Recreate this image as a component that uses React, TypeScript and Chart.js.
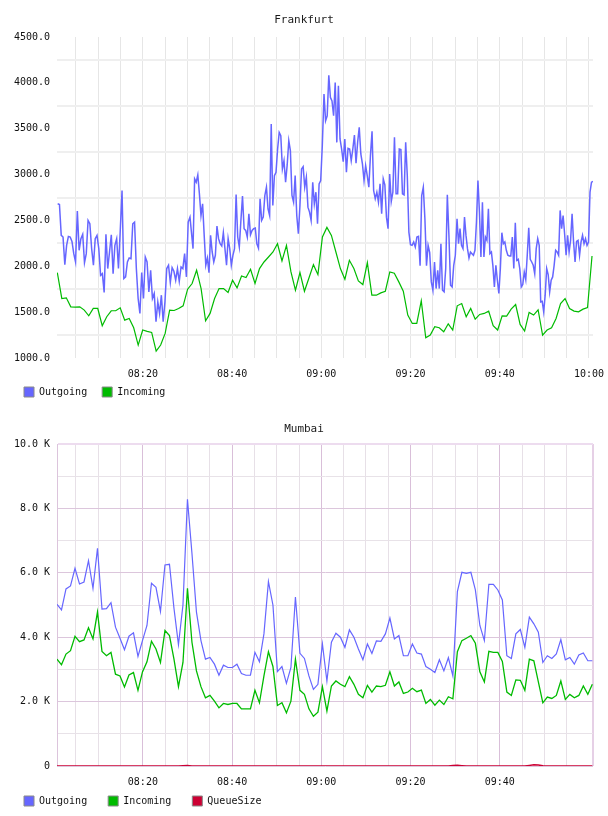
import React, { useEffect, useRef } from "react";
import { Chart, registerables } from "chart.js";

Chart.register(...registerables);

// ---- Frankfurt: outgoing traffic, four half-hour blocks of samples ----
const frankfurtOutgoing0800 = [
  2681, 2674, 2337, 2319, 2018, 2228, 2326, 2319, 2272, 2138,
  2047, 2602, 2174, 2301, 2348, 2040, 2138, 2500, 2464, 2192,
  2011, 2301, 2337, 2192, 1902, 1920, 1714, 2348, 1975, 2156,
  2344, 1920, 2228, 2301, 1975, 2391, 2826, 1866, 1884, 2047,
  2090, 2083, 2464, 2482, 1975, 1649, 1486, 1931, 1649, 2101,
  2047, 1721, 1957, 1649, 1703, 1395, 1612, 1486, 1685, 1395,
  1612, 1975, 2011, 1823, 1986, 1946, 1848, 1975, 1837, 1993,
  1975, 2138, 1884, 2482, 2536,
];
const frankfurtOutgoing0830 = [
  2192, 2953, 2917, 2996, 2790, 2554, 2681, 2337, 2011, 2090,
  1931, 2337, 2156, 2047, 2120, 2439, 2301, 2246, 2221, 2366,
  2192, 2011, 2301, 2192, 2011, 2120, 2192, 2783, 2319, 2210,
  2500, 2765, 2410, 2391, 2319, 2573, 2344, 2391, 2410, 2417,
  2246, 2199, 2736, 2500, 2536, 2772, 2862, 2627, 2554, 3551,
  2663, 2989, 3025, 3279, 3460, 3424, 3062, 3152, 2917, 3105,
  3369, 3261, 2772, 2699, 2989, 2554, 2355, 2663, 3062, 3087,
  2862, 2971, 2645, 2591, 2500, 2917, 2681, 2808, 2464, 2899,
  2935, 3315,
];
const frankfurtOutgoing0900 = [
  3877, 3587, 3641, 4083, 3841, 3804, 3641, 4003, 3351, 3967,
  3388, 3279, 3141, 3388, 3025, 3286, 3279, 3152, 3279, 3431,
  3123, 3351, 3515, 3225, 3116, 2935, 3098, 2989, 2862, 3207,
  3471, 2826, 2736, 2808, 2699, 2899, 2573, 2953, 2888, 2536,
  2410, 3007, 2707, 2808, 3406, 2790, 2790, 3279, 3272, 2790,
  2779, 3351, 2989, 2373, 2236, 2228, 2265, 2210, 2319, 2326,
  2007, 2772, 2862, 2518, 2007, 2228, 2149, 1830, 1739, 2047,
  1757, 1957, 1757, 2246, 1739, 1721, 1975, 2779, 2337, 1794,
  1775, 2011, 2120,
];
const frankfurtOutgoing0930 = [
  2518, 2246, 2410, 2228, 2192, 2536, 2337, 2192, 2090, 2156,
  2138, 2120, 2174, 2482, 2935, 2591, 2101, 2699, 2101, 2319,
  2283, 2627, 2138, 2156, 2007, 1775, 2011, 1848, 1703, 1975,
  2366, 2246, 2265, 2174, 2120, 2113, 2113, 2319, 1975, 2475,
  2065, 2076, 1975, 1775, 1801, 1938, 1855, 2120, 2420, 2076,
  2047, 2011, 1920, 2192, 2301, 2228, 1612, 1619, 1504, 1685,
  1975, 1910, 1721, 1848, 1884, 2011, 2174, 2156, 2120, 2609,
  2410, 2554, 2355, 2120, 2337, 2156, 2283, 2573, 2265, 2047,
  2272, 2283, 2120, 2265, 2337, 2246, 2301, 2228, 2265, 2808,
  2917, 2924,
];
// first / last sample time of each block, minutes after 08:00
const frankfurtOutgoingSpans: [number, number][] = [
  [0.9, 30.56],
  [31.24, 60.22],
  [60.6, 90.04],
  [90.42, 120.9],
];

// ---- Frankfurt: incoming traffic, one sample per minute ----
const frankfurtIncoming = [
  1931, 1649, 1656, 1558, 1555, 1558, 1522, 1460, 1540, 1540,
  1352, 1450, 1515, 1515, 1547, 1413, 1431, 1330, 1141, 1305,
  1290, 1279, 1076, 1141, 1268, 1522, 1518, 1540, 1569, 1750,
  1812, 1957, 1757, 1406, 1486, 1649, 1757, 1757, 1714, 1848,
  1765, 1895, 1877, 1967, 1812, 1975, 2047, 2101, 2156, 2246,
  2058, 2228, 1938, 1739, 1931, 1728, 1873, 2018, 1909, 2319,
  2424, 2337, 2156, 1975, 1859, 2065, 1975, 1841, 1801, 2040,
  1685, 1685, 1710, 1728, 1938, 1924, 1830, 1728, 1468, 1377,
  1377, 1623, 1221, 1250, 1341, 1330, 1286, 1373, 1305, 1569,
  1594, 1450, 1540, 1424, 1475, 1486, 1511, 1352, 1305, 1460,
  1457, 1533, 1583, 1366, 1294, 1497, 1468, 1526, 1250, 1305,
  1330, 1431, 1594, 1649, 1540, 1511, 1504, 1533, 1551, 2112,
];
const frankfurtIncomingSpan: [number, number] = [0.82, 120.68];

// ---- Mumbai: one sample per minute ----
const mumbaiOutgoing = [
  5022, 4845, 5498, 5591, 6140, 5653, 5715, 6377, 5519, 6760,
  4876, 4886, 5072, 4312, 3967, 3612, 4030, 4134, 3403, 3894,
  4364, 5674, 5550, 4800, 6243, 6264, 4900, 3769, 5000, 8283,
  6600, 4780, 3894, 3320, 3372, 3163, 2819, 3132, 3059, 3059,
  3163, 2871, 2819, 2819, 3529, 3236, 4103, 5725, 5000, 2933,
  3090, 2568, 3059, 5250, 3500, 3341, 2798, 2380, 2537, 3790,
  2641, 3842, 4124, 3999, 3685, 4228, 3999, 3633, 3299, 3790,
  3497, 3884, 3873, 4103, 4594, 3946, 4051, 3424, 3424, 3790,
  3508, 3477, 3090, 3007, 2902, 3299, 2954, 3362, 2798, 5414,
  6015, 5983, 6015, 5467, 4364, 3894, 5643, 5643, 5467, 5156,
  3424, 3341, 4103, 4239, 3685, 4625, 4416, 4155, 3215, 3424,
  3341, 3477, 3925, 3299, 3372, 3163, 3445, 3508, 3268, 3268,
];
const mumbaiIncoming = [
  3320, 3142, 3477, 3581, 4030, 3863, 3915, 4291, 3946, 4782,
  3560, 3424, 3529, 2850, 2798, 2453, 2829, 2902, 2349, 2923,
  3236, 3873, 3633, 3215, 4207, 4051, 3320, 2464, 3215, 5519,
  3842, 2954, 2464, 2119, 2192, 2015, 1806, 1942, 1911, 1942,
  1942, 1775, 1775, 1775, 2349, 1963, 2798, 3550, 3090, 1879,
  1963, 1650, 2015, 3320, 2350, 2224, 1775, 1545, 1670, 2464,
  1702, 2485, 2641, 2537, 2464, 2777, 2537, 2224, 2119, 2506,
  2297, 2485, 2464, 2506, 2923, 2485, 2610, 2255, 2297, 2412,
  2307, 2359, 1942, 2067, 1890, 2046, 1911, 2151, 2088, 3550,
  3894, 3967, 4051, 3811, 2923, 2610, 3560, 3529, 3529, 3247,
  2297, 2192, 2673, 2662, 2349, 3320, 3268, 2610, 1963, 2140,
  2098, 2192, 2641, 2067, 2224, 2119, 2192, 2485, 2224, 2537,
];
const mumbaiQueueSize = [
  0, 0, 0, 0, 0, 0, 0, 0, 0, 0,
  0, 0, 0, 0, 0, 0, 0, 0, 0, 0,
  0, 0, 0, 0, 0, 0, 0, 0, 8, 12,
  0, 0, 0, 0, 0, 0, 0, 0, 0, 0,
  0, 0, 0, 0, 0, 0, 0, 0, 0, 0,
  0, 0, 0, 0, 0, 0, 0, 0, 0, 0,
  0, 0, 0, 0, 0, 0, 0, 0, 0, 0,
  0, 0, 0, 0, 0, 0, 0, 0, 0, 0,
  0, 0, 0, 0, 0, 0, 0, 0, 12, 22,
  10, 0, 0, 0, 0, 0, 0, 0, 0, 0,
  0, 0, 0, 0, 0, 18, 38, 28, 10, 0,
  0, 0, 0, 0, 0, 0, 0, 0, 0, 0,
];
const mumbaiSpan: [number, number] = [0.75, 120.75];

// ---- axes ----
const timeRange: [number, number] = [0.75, 120.9]; // 08:00:45 .. 10:00:54
const frankfurtTimeGrid = [5, 10, 15, 20, 25, 30, 35, 40, 45, 50, 55, 60, 65, 70, 75, 80, 85, 90, 95, 100, 105, 110, 115, 120];
const mumbaiTimeGrid = [5, 10, 15, 20, 25, 30, 35, 40, 45, 50, 55, 60, 65, 70, 75, 80, 85, 90, 95, 100, 105, 110, 115];
const frankfurtValueGrid = [1000, 1250, 1500, 1750, 2000, 2250, 2500, 2750, 3000, 3250, 3500, 3750, 4000, 4250, 4500];
const mumbaiValueGrid = [0, 1000, 2000, 3000, 4000, 5000, 6000, 7000, 8000, 9000, 10000];

const FONT = "'DejaVu Sans Mono', monospace";
const BLUE = "#6666ff";
const GREEN = "#00bb00";
const RED = "#cc0033";

function spread(values: number[], span: [number, number]) {
  const [t0, t1] = span;
  const step = values.length > 1 ? (t1 - t0) / (values.length - 1) : 0;
  return values.map((v, i) => ({ x: t0 + i * step, y: v }));
}

function clock(minutes: number) {
  const h = 8 + Math.floor(minutes / 60);
  const m = minutes % 60;
  return `${String(h).padStart(2, "0")}:${String(m).padStart(2, "0")}`;
}

// The time axis is kept thin so the legend sits right under it; its labels
// are allowed to run past the axis box instead of being clipped to it.
function fitTimeAxis(height: number) {
  return (s: any) => {
    s.height = height;
    s.paddingLeft = 0;
    s.paddingRight = 0;
    s._computeLabelArea = () => undefined;
  };
}

const centeredTitle = {
  id: "centeredTitle",
  afterDraw(chart: any, _args: any, opts: any) {
    const { ctx, width } = chart;
    ctx.save();
    ctx.font = `11px ${FONT}`;
    ctx.fillStyle = "#1a1a1a";
    ctx.textAlign = "center";
    ctx.textBaseline = "middle";
    ctx.fillText(opts.text, width / 2, opts.y);
    ctx.restore();
  },
};

function legendLabels(chart: any) {
  return chart.data.datasets.map((ds: any, i: number) => ({
    text: ds.label,
    fillStyle: ds.borderColor,
    strokeStyle: "#8a8a8a",
    lineWidth: 1,
    hidden: false,
    datasetIndex: i,
    fontColor: "#111",
  }));
}

function lineSet(label: string, data: { x: number; y: number }[], color: string, width: number) {
  return {
    label,
    data,
    borderColor: color,
    backgroundColor: color,
    borderWidth: width,
    pointRadius: 0,
    tension: 0,
    fill: false,
  };
}

function frankfurtConfig(): any {
  const outgoing = [frankfurtOutgoing0800, frankfurtOutgoing0830, frankfurtOutgoing0900, frankfurtOutgoing0930]
    .flatMap((block, i) => spread(block, frankfurtOutgoingSpans[i]));
  return {
    type: "line",
    data: {
      datasets: [
        lineSet("Outgoing", outgoing, BLUE, 1.5),
        lineSet("Incoming", spread(frankfurtIncoming, frankfurtIncomingSpan), GREEN, 1.2),
      ],
    },
    options: {
      responsive: false,
      animation: false,
      devicePixelRatio: 1,
      layout: { padding: { left: 9, right: 15, top: 37, bottom: 1 } },
      plugins: {
        title: { display: false },
        tooltip: { enabled: false },
        legend: {
          position: "bottom",
          align: "start",
          labels: {
            boxWidth: 10,
            boxHeight: 10,
            padding: 15,
            color: "#111",
            font: { family: FONT, size: 10 },
            generateLabels: legendLabels,
          },
        },
        centeredTitle: { text: "Frankfurt", y: 20 },
      },
      scales: {
        x: {
          type: "linear",
          min: timeRange[0],
          max: timeRange[1],
          afterBuildTicks: (s: any) => { s.ticks = frankfurtTimeGrid.map((v) => ({ value: v })); },
          afterFit: fitTimeAxis(14),
          border: { display: false },
          grid: { color: "#e6e6e6", lineWidth: 1, drawTicks: false },
          ticks: {
            autoSkip: false,
            maxRotation: 0,
            padding: 10,
            color: "#111",
            font: { family: FONT, size: 10 },
            callback: (v: number) => (v % 20 === 0 ? clock(v) : ""),
          },
        },
        y: {
          type: "linear",
          min: 1000,
          max: 4500,
          afterBuildTicks: (s: any) => { s.ticks = frankfurtValueGrid.map((v) => ({ value: v })); },
          afterFit: (s: any) => { s.width = 48; s.paddingTop = 0; s.paddingBottom = 0; },
          border: { display: false },
          grid: {
            drawTicks: false,
            lineWidth: 2,
            color: (c: any) => (c.tick && c.tick.value % 500 === 0 ? "rgba(0,0,0,0)" : "#efefef"),
          },
          ticks: {
            padding: 7,
            color: "#111",
            font: { family: FONT, size: 10 },
            callback: (v: number) => (v % 500 === 0 ? v.toFixed(1) : ""),
          },
        },
      },
    },
    plugins: [centeredTitle],
  };
}

function mumbaiConfig(): any {
  const majorTime = "#d9bfd9";
  const minorTime = "#e7e0e7";
  const frame = "#e6d0e6";
  return {
    type: "line",
    data: {
      datasets: [
        lineSet("Outgoing", spread(mumbaiOutgoing, mumbaiSpan), BLUE, 1.2),
        lineSet("Incoming", spread(mumbaiIncoming, mumbaiSpan), GREEN, 1.3),
        lineSet("QueueSize", spread(mumbaiQueueSize, mumbaiSpan), RED, 1.5),
      ],
    },
    options: {
      responsive: false,
      animation: false,
      devicePixelRatio: 1,
      layout: { padding: { left: 3, right: 15, top: 36, bottom: 0 } },
      plugins: {
        title: { display: false },
        tooltip: { enabled: false },
        legend: {
          position: "bottom",
          align: "start",
          labels: {
            boxWidth: 10,
            boxHeight: 10,
            padding: 21,
            color: "#111",
            font: { family: FONT, size: 10 },
            generateLabels: legendLabels,
          },
        },
        centeredTitle: { text: "Mumbai", y: 21 },
      },
      scales: {
        x: {
          type: "linear",
          min: timeRange[0],
          max: timeRange[1],
          afterBuildTicks: (s: any) => {
            s.ticks = [...mumbaiTimeGrid, timeRange[1]].map((v) => ({ value: v }));
          },
          afterFit: fitTimeAxis(9),
          border: { display: false },
          grid: {
            drawTicks: false,
            lineWidth: (c: any) => (c.tick && c.tick.value === timeRange[1] ? 2 : 1),
            color: (c: any) => {
              const v = c.tick ? c.tick.value : 0;
              if (v === timeRange[1]) return frame;
              return v % 20 === 0 ? majorTime : minorTime;
            },
          },
          ticks: {
            autoSkip: false,
            maxRotation: 0,
            padding: 10,
            color: "#111",
            font: { family: FONT, size: 10 },
            callback: (v: number) => (v % 20 === 0 ? clock(v) : ""),
          },
        },
        y: {
          type: "linear",
          min: 0,
          max: 10000,
          afterBuildTicks: (s: any) => { s.ticks = mumbaiValueGrid.map((v) => ({ value: v })); },
          afterFit: (s: any) => { s.width = 54; s.paddingTop = 0; s.paddingBottom = 0; },
          border: { display: true, color: "#dcc4dc", width: 1 },
          grid: {
            drawTicks: false,
            lineWidth: (c: any) => (c.tick && c.tick.value === 10000 ? 2 : 1),
            color: (c: any) => {
              const v = c.tick ? c.tick.value : 0;
              if (v === 10000) return "#eddcef";
              return v % 2000 === 0 ? "#dcc6dc" : "#e8e2e8";
            },
          },
          ticks: {
            padding: 7,
            color: "#111",
            font: { family: FONT, size: 10 },
            callback: (v: number) => (v % 2000 !== 0 ? "" : v === 0 ? "0" : `${(v / 1000).toFixed(1)} K`),
          },
        },
      },
    },
    plugins: [centeredTitle],
  };
}

function LineChart({ make }: { make: () => any }) {
  const ref = useRef<HTMLCanvasElement>(null);
  useEffect(() => {
    const chart = new Chart(ref.current as HTMLCanvasElement, make());
    return () => chart.destroy();
  }, [make]);
  return <canvas ref={ref} width={608} height={408} style={{ display: "block" }} />;
}

export default function App() {
  return (
    <div style={{ position: "absolute", left: 0, top: 0, width: 608, height: 816, background: "#fff" }}>
      <LineChart make={frankfurtConfig} />
      <LineChart make={mumbaiConfig} />
    </div>
  );
}
